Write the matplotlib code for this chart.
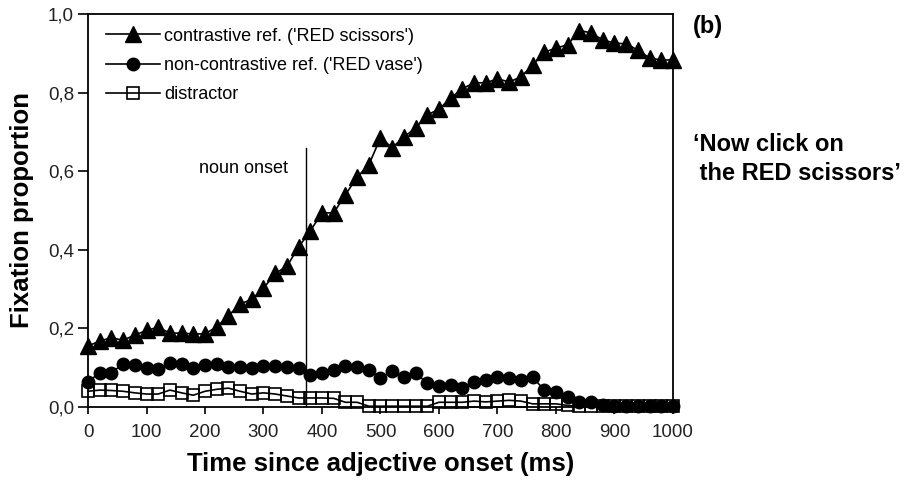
import matplotlib
matplotlib.use('Agg')
import matplotlib.pyplot as plt
from matplotlib.ticker import FuncFormatter

# time bins (ms since adjective onset)
time_ms = list(range(0, 1001, 20))

contrastive = [0.155, 0.168, 0.176, 0.170, 0.183, 0.195, 0.203, 0.188, 0.188, 0.186,
               0.186, 0.204, 0.232, 0.262, 0.274, 0.302, 0.340, 0.358, 0.407, 0.448,
               0.494, 0.494, 0.540, 0.585, 0.616, 0.685, 0.660, 0.687, 0.710, 0.743,
               0.758, 0.786, 0.810, 0.825, 0.825, 0.835, 0.827, 0.840, 0.870, 0.903,
               0.913, 0.922, 0.958, 0.952, 0.934, 0.926, 0.924, 0.908, 0.888, 0.883,
               0.883]

non_contrastive = [0.064, 0.087, 0.087, 0.110, 0.107, 0.100, 0.097, 0.112, 0.110, 0.100,
                   0.108, 0.110, 0.102, 0.102, 0.100, 0.104, 0.104, 0.102, 0.098, 0.082,
                   0.087, 0.094, 0.104, 0.102, 0.094, 0.074, 0.092, 0.077, 0.087, 0.060,
                   0.054, 0.056, 0.048, 0.064, 0.069, 0.076, 0.074, 0.069, 0.076, 0.043,
                   0.038, 0.025, 0.013, 0.013, 0.005, 0.003, 0.003, 0.003, 0.003, 0.003,
                   0.003]

distractor = [0.040, 0.043, 0.042, 0.040, 0.036, 0.033, 0.033, 0.043, 0.036, 0.030,
              0.040, 0.045, 0.048, 0.040, 0.033, 0.036, 0.033, 0.028, 0.023, 0.023,
              0.023, 0.022, 0.012, 0.012, 0.002, 0.002, 0.002, 0.002, 0.002, 0.002,
              0.012, 0.012, 0.012, 0.015, 0.013, 0.015, 0.017, 0.015, 0.008, 0.008,
              0.008, 0.004, 0.002, 0.002, 0.002, 0.002, 0.002, 0.002, 0.002, 0.002,
              0.002]

labels = ["contrastive ref. ('RED scissors')",
          "non-contrastive ref. ('RED vase')",
          "distractor"]

NOUN_ONSET = 372
NOUN_LINE_TOP = 0.66

plt.rcParams['font.family'] = ['Liberation Sans', 'DejaVu Sans']

fig = plt.figure(figsize=(9.08, 4.88), dpi=100)
ax = fig.add_axes([88 / 908, 1 - 407 / 488, 585 / 908, 393 / 488])

# series (markers may spill over the frame like in the original)
ax.plot(time_ms, contrastive, color='black', lw=1.2, marker='^', ms=11,
        label=labels[0], zorder=3, clip_on=False)
ax.plot(time_ms, distractor, color='black', lw=1.2, marker='s', ms=8,
        mfc='none', mec='black', mew=1.2, label=labels[2], zorder=2, clip_on=False)
ax.plot(time_ms, non_contrastive, color='black', lw=1.2, marker='o', ms=9,
        label=labels[1], zorder=2.5, clip_on=False)

# noun onset marker
ax.plot([NOUN_ONSET, NOUN_ONSET], [0, NOUN_LINE_TOP], color='black', lw=1.0, zorder=1)
ax.text(NOUN_ONSET - 30, 0.608, 'noun onset', ha='right', va='center', fontsize=13)

ax.set_xlim(0, 1000)
ax.set_ylim(0, 1.0)
ax.set_xticks(range(0, 1001, 100))
ax.set_yticks([0, 0.2, 0.4, 0.6, 0.8, 1.0])
ax.yaxis.set_major_formatter(FuncFormatter(lambda v, p: f'{v:.1f}'.replace('.', ',')))
ax.tick_params(axis='both', labelsize=13.5, width=1.2, direction='out')
ax.tick_params(axis='x', length=5, pad=7)
ax.tick_params(axis='y', length=7, pad=3)
for sp in ax.spines.values():
    sp.set_linewidth(1.3)
for lab in ax.get_xticklabels() + ax.get_yticklabels():
    lab.set_color('#222222')

ax.set_xlabel('Time since adjective onset (ms)', fontsize=18.5, fontweight='bold', labelpad=8)
ax.set_ylabel('Fixation proportion', fontsize=18.5, fontweight='bold', labelpad=10)

handles, labs = ax.get_legend_handles_labels()
order = [labs.index(l) for l in labels]
ax.legend([handles[i] for i in order], [labs[i] for i in order],
          loc='upper left', bbox_to_anchor=(0.03, 0.965), frameon=False,
          fontsize=13, handlelength=3.0, handletextpad=0.25, labelspacing=0.68,
          borderpad=0, borderaxespad=0)

fig.text(693 / 908, 1 - 15 / 488, '(b)', fontsize=17, fontweight='bold', ha='left', va='top')
fig.text(693 / 908, 1 - 133 / 488, '\u2018Now click on\n the RED scissors\u2019',
         fontsize=17, fontweight='bold', ha='left', va='top', linespacing=1.35)

fig.savefig('out.png', dpi=100)
